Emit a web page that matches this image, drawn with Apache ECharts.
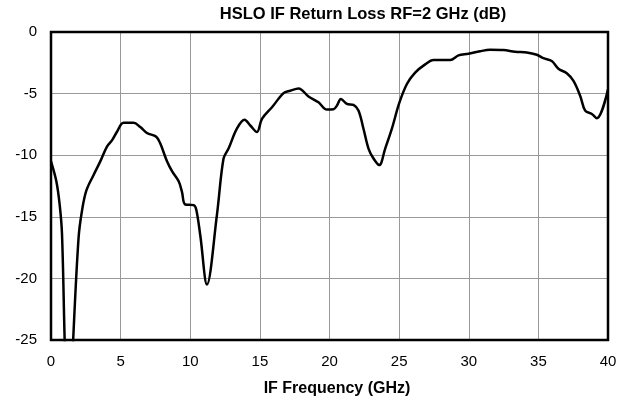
<!DOCTYPE html>
<html>
<head>
<meta charset="utf-8">
<script src="https://cdn.jsdelivr.net/npm/echarts@6/dist/echarts.min.js"></script>
<style>
  html, body { margin: 0; padding: 0; background: #fff; }
  #chart { width: 631px; height: 402px; }
</style>
</head>
<body>
<div id="chart"></div>
<script>
// IF frequency (GHz) and return loss (dB)
var freqGHz = [
  0, 0.38, 0.62, 0.79, 0.98, 1.12, 1.42, 1.6, 1.98, 2.22, 2.53, 3.06, 3.54, 4.02, 4.38, 4.74,
  5.21, 5.93, 6.41, 6.89, 7.56, 7.85, 8.33, 8.69, 9.16, 9.4, 9.64, 10.24, 10.43, 10.72, 11.2,
  11.92, 12.39, 12.75, 13.35, 13.9, 14.31, 14.79, 15.15, 15.87, 16.7, 17.18, 17.78, 18.49,
  19.21, 19.81, 20.29, 20.53, 20.82, 21.25, 21.72, 22.08, 22.44, 22.8, 23.16, 23.57, 24.0,
  24.48, 25.0, 25.55, 26.15, 26.87, 27.47, 28.07, 28.67, 29.26, 29.98, 30.82, 31.54, 32.49,
  33.33, 34.17, 34.89, 35.36, 35.96, 36.44, 37.04, 37.52, 38.0, 38.36, 38.84, 39.2, 40.0
];
var returnLossDb = [
  -10.5, -12.1, -14.0, -16.4, -25, -30, -30, -24.8, -16.7, -14.55, -12.9, -11.6, -10.5, -9.3, -8.8, -8.1,
  -7.37, -7.37, -7.72, -8.2, -8.5, -9.06, -10.5, -11.3, -12.1, -12.95, -14.0, -14.05, -14.4, -16.5, -20.5,
  -14.8, -10.27, -9.46, -7.85, -7.13, -7.59, -8.12, -7.05, -6.11, -4.96, -4.77, -4.58, -5.23,
  -5.71, -6.3, -6.27, -5.98, -5.44, -5.84, -5.92, -6.38, -7.85, -9.46, -10.27, -10.8, -9.46,
  -7.85, -5.8, -4.24, -3.3, -2.63, -2.28, -2.28, -2.28, -1.9, -1.77, -1.56, -1.45, -1.47,
  -1.61, -1.66, -1.85, -2.12, -2.36, -2.98, -3.35, -3.97, -5.17, -6.38, -6.65, -7.0, -4.64
];

var points = freqGHz.map(function (f, i) { return [f, returnLossDb[i]]; });

var chart = echarts.init(document.getElementById('chart'));
var font = 'Liberation Sans, Arial, Helvetica, sans-serif';

chart.setOption({
  animation: false,
  title: {
    text: 'HSLO IF Return Loss RF=2 GHz (dB)',
    left: 363,
    top: 6,
    padding: 0,
    textAlign: 'center',
    textStyle: { fontFamily: font, fontSize: 16.5, fontWeight: 'bold', color: '#000' }
  },
  grid: {
    left: 51, right: 23, top: 32, bottom: 59,
    show: true,
    borderColor: '#000',
    borderWidth: 2.5,
    z: 5
  },
  xAxis: {
    type: 'value',
    min: 0, max: 40, interval: 5,
    name: 'IF Frequency (GHz)',
    nameLocation: 'middle',
    nameGap: 41,
    nameTextStyle: { fontFamily: font, fontSize: 16, fontWeight: 'bold', color: '#000', padding: [0, 0, 0, 15] },
    axisLine: { show: false },
    axisTick: { show: false },
    axisLabel: { fontFamily: font, fontSize: 15, color: '#000', margin: 14 },
    splitLine: { lineStyle: { color: '#999', width: 1 } }
  },
  yAxis: {
    type: 'value',
    min: -25, max: 0, interval: 5,
    axisLine: { show: false },
    axisTick: { show: false },
    axisLabel: { fontFamily: font, fontSize: 15, color: '#000', margin: 14 },
    splitLine: { lineStyle: { color: '#999', width: 1 } }
  },
  series: [{
    type: 'line',
    data: points,
    smooth: 0.35,
    showSymbol: false,
    clip: true,
    lineStyle: { color: '#000', width: 2.5 }
  }]
});
</script>
</body>
</html>
